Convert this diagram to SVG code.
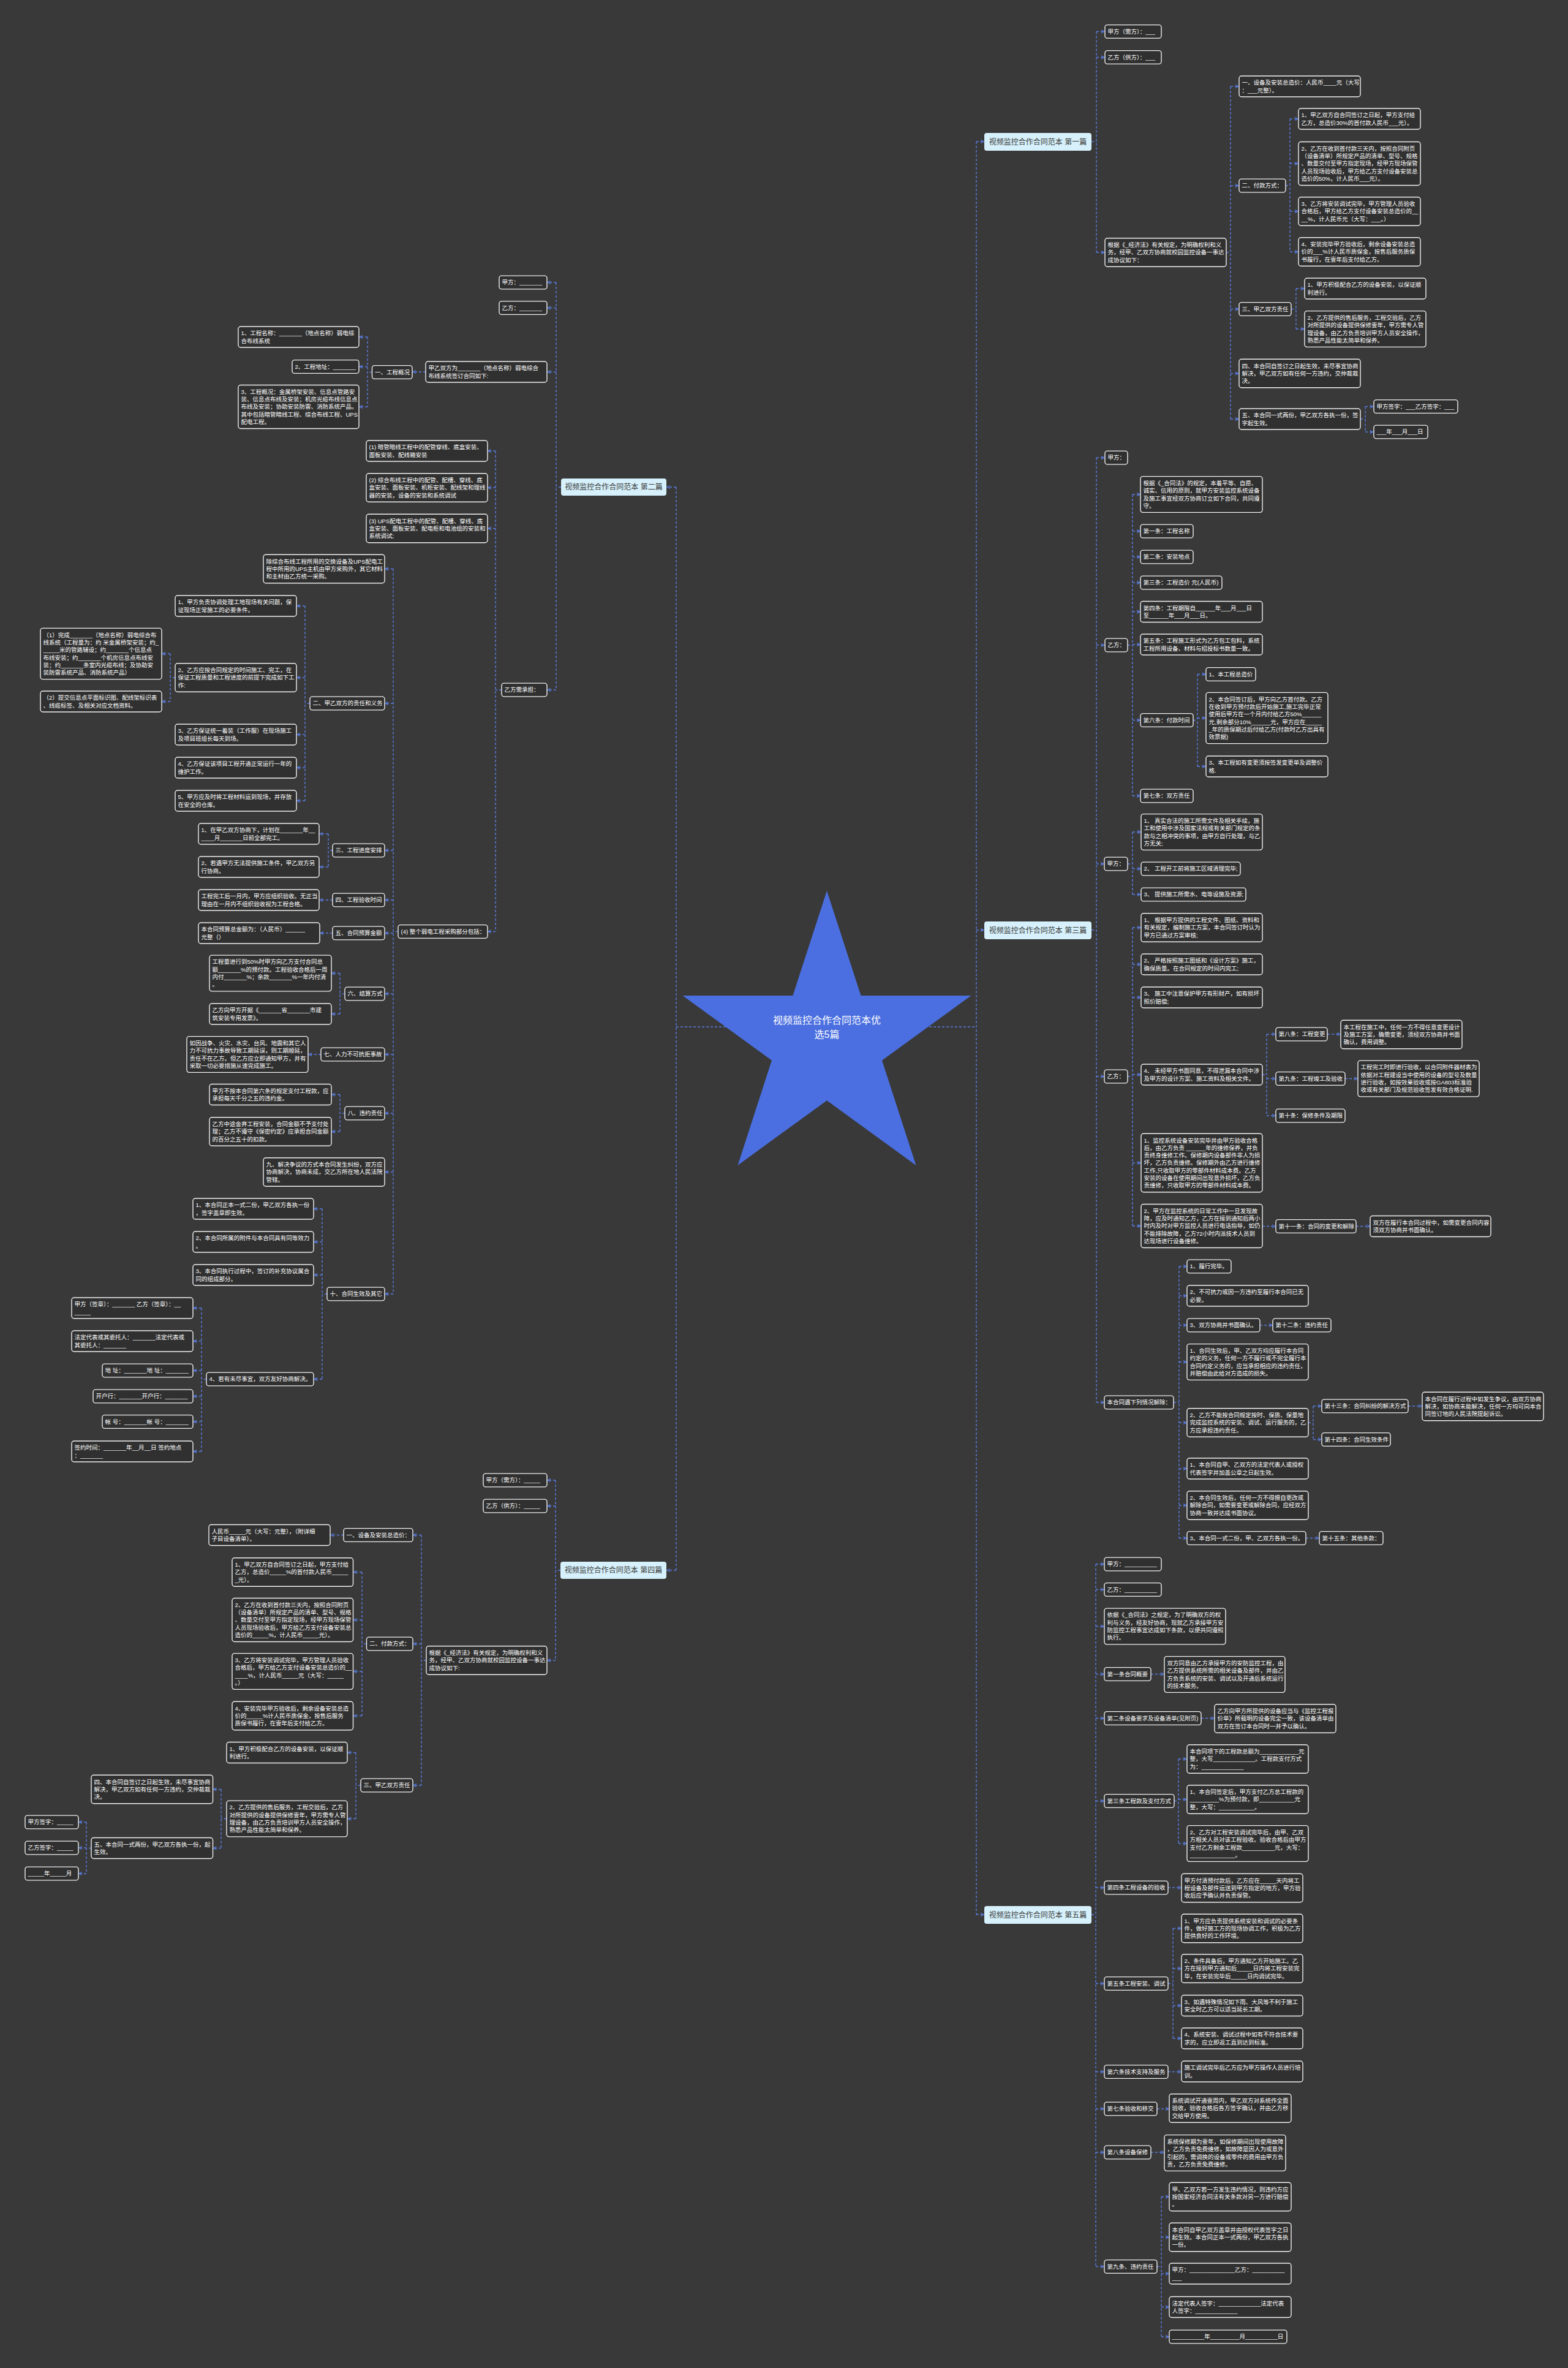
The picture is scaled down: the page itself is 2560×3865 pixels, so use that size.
<svg xmlns="http://www.w3.org/2000/svg" width="2560" height="3865" viewBox="0 0 2560 3865">
<defs>
<style>
.b{fill:#303030;stroke:#f0f0f0;stroke-width:1.4;rx:4px}
.lv{fill:#d6f1fb;rx:4px}
.t{font-family:"Liberation Sans","Noto Sans CJK SC",sans-serif;font-size:9.5px;fill:#ffffff}
.lt{font-family:"Liberation Sans","Noto Sans CJK SC",sans-serif;font-size:12px;fill:#3a3a3a;text-anchor:middle}
.c{fill:none;stroke:#5a7ce0;stroke-width:1.4;stroke-dasharray:4 3}
.a{fill:none;stroke:#5a7ce0;stroke-width:1.4;stroke-dasharray:4 3;marker-end:url(#ar)}
</style>
<marker id="ar" viewBox="0 0 10 10" refX="9" refY="5" markerWidth="7" markerHeight="7" orient="auto" markerUnits="userSpaceOnUse"><path d="M2,1.5 L9,5 L2,8.5" fill="none" stroke="#5a7ce0" stroke-width="1.6"/></marker>
</defs>
<rect x="0" y="0" width="2560" height="3865" fill="#393939"/>

<g id="connectors">
<path class="c" d="M1104,1676 H1594"/>
<path class="c" d="M1594,231 V3125"/>
<path class="a" d="M1594,231 H1606"/><path class="a" d="M1594,1518 H1606"/><path class="a" d="M1594,3125 H1606"/>
<path class="c" d="M1104,795 V2563"/>
<path class="a" d="M1104,795 H1089"/><path class="a" d="M1104,2563 H1089"/>
<!-- P1 -->
<path class="c" d="M1782,231 H1790 M1790,51.5 V412"/>
<path class="a" d="M1790,51.5 H1803"/><path class="a" d="M1790,93.5 H1803"/><path class="a" d="M1790,412 H1803"/>
<path class="c" d="M2002,412 H2009 M2009,141 V684"/>
<path class="a" d="M2009,141 H2022"/><path class="a" d="M2009,303 H2022"/><path class="a" d="M2009,504.5 H2022"/><path class="a" d="M2009,609.5 H2022"/><path class="a" d="M2009,684 H2022"/>
<path class="c" d="M2099,303 H2106 M2106,194 V411"/>
<path class="a" d="M2106,194 H2119"/><path class="a" d="M2106,267 H2119"/><path class="a" d="M2106,345 H2119"/><path class="a" d="M2106,411 H2119"/>
<path class="c" d="M2108,504.5 H2116 M2116,471 V537"/>
<path class="a" d="M2116,471 H2129"/><path class="a" d="M2116,537 H2129"/>
<path class="c" d="M2221,684 H2229 M2229,663.5 V705"/>
<path class="a" d="M2229,663.5 H2242"/><path class="a" d="M2229,705 H2242"/>
<!-- P3 -->
<path class="c" d="M1782,1518 H1790 M1790,747 V2289"/>
<path class="a" d="M1790,747 H1803"/><path class="a" d="M1790,1053 H1803"/><path class="a" d="M1790,1410 H1802"/><path class="a" d="M1790,1757 H1802"/><path class="a" d="M1790,2289 H1802"/>
<path class="c" d="M1841,1053 H1849 M1849,807 V1299"/>
<path class="a" d="M1849,807 H1861"/><path class="a" d="M1849,867 H1861"/><path class="a" d="M1849,909 H1861"/><path class="a" d="M1849,951 H1861"/><path class="a" d="M1849,998.5 H1861"/><path class="a" d="M1849,1052 H1861"/><path class="a" d="M1849,1175.5 H1861"/><path class="a" d="M1849,1299 H1861"/>
<path class="c" d="M1948,1175.5 H1955 M1955,1100.5 V1251"/>
<path class="a" d="M1955,1100.5 H1968"/><path class="a" d="M1955,1172 H1968"/><path class="a" d="M1955,1251 H1968"/>
<path class="c" d="M1841,1410 H1849 M1849,1358 V1460"/>
<path class="a" d="M1849,1358 H1862"/><path class="a" d="M1849,1418 H1862"/><path class="a" d="M1849,1460 H1862"/>
<path class="c" d="M1841,1757 H1849 M1849,1514 V2001"/>
<path class="a" d="M1849,1514 H1862"/><path class="a" d="M1849,1574 H1862"/><path class="a" d="M1849,1628 H1862"/><path class="a" d="M1849,1754 H1862"/><path class="a" d="M1849,1898 H1862"/><path class="a" d="M1849,2001 H1862"/>
<path class="c" d="M2061,1754 H2068 M2068,1688 V1821"/>
<path class="a" d="M2068,1688 H2082"/><path class="a" d="M2068,1760.5 H2082"/><path class="a" d="M2068,1821 H2082"/>
<path class="a" d="M2167,1688 H2188"/>
<path class="a" d="M2196,1760.5 H2216"/>
<path class="a" d="M2061,2001.5 H2082"/>
<path class="a" d="M2214,2001.5 H2236"/>
<path class="c" d="M1916,2289 H1925 M1925,2067 V2510.5"/>
<path class="a" d="M1925,2067 H1937"/><path class="a" d="M1925,2115 H1937"/><path class="a" d="M1925,2163 H1937"/><path class="a" d="M1925,2223 H1937"/><path class="a" d="M1925,2322 H1937"/><path class="a" d="M1925,2397 H1937"/><path class="a" d="M1925,2457 H1937"/><path class="a" d="M1925,2510.5 H1937"/>
<path class="a" d="M2057,2163 H2077"/>
<path class="c" d="M2136,2322 H2144 M2144,2295 V2349.5"/>
<path class="a" d="M2144,2295 H2157"/><path class="a" d="M2144,2349.5 H2157"/>
<path class="a" d="M2299,2295 H2321"/>
<path class="a" d="M2132,2510.5 H2153"/>
<!-- P5 -->
<path class="c" d="M1782,3125 H1789 M1789,2553 V3699.5"/>
<path class="a" d="M1789,2553 H1802"/><path class="a" d="M1789,2594.5 H1802"/><path class="a" d="M1789,2654.5 H1802"/><path class="a" d="M1789,2732.5 H1802"/><path class="a" d="M1789,2804.5 H1802"/><path class="a" d="M1789,2939.5 H1802"/><path class="a" d="M1789,3081 H1802"/><path class="a" d="M1789,3237.5 H1802"/><path class="a" d="M1789,3381.5 H1802"/><path class="a" d="M1789,3442 H1802"/><path class="a" d="M1789,3513 H1802"/><path class="a" d="M1789,3699.5 H1802"/>
<path class="a" d="M1879,2732.5 H1900"/>
<path class="a" d="M1961,2804.5 H1982"/>
<path class="c" d="M1917,2939.5 H1924 M1924,2871 V3009"/>
<path class="a" d="M1924,2871 H1937"/><path class="a" d="M1924,2937 H1937"/><path class="a" d="M1924,3009 H1937"/>
<path class="a" d="M1907,3081 H1928"/>
<path class="c" d="M1907,3237.5 H1915 M1915,3147.5 V3327"/>
<path class="a" d="M1915,3147.5 H1928"/><path class="a" d="M1915,3213 H1928"/><path class="a" d="M1915,3273.5 H1928"/><path class="a" d="M1915,3327 H1928"/>
<path class="a" d="M1907,3381.5 H1928"/>
<path class="a" d="M1889,3442 H1908"/>
<path class="a" d="M1879,3513 H1900"/>
<path class="c" d="M1889,3699.5 H1896 M1896,3585.5 V3814"/>
<path class="a" d="M1896,3585.5 H1908"/><path class="a" d="M1896,3651.5 H1908"/><path class="a" d="M1896,3711 H1908"/><path class="a" d="M1896,3765.5 H1908"/><path class="a" d="M1896,3814 H1908"/>
<!-- P2 -->
<path class="c" d="M916,795 H908 M908,461 V1126"/>
<path class="a" d="M908,461 H894"/><path class="a" d="M908,502.5 H894"/><path class="a" d="M908,607 H894"/><path class="a" d="M908,1126 H894"/>
<path class="a" d="M695,607 H674"/>
<path class="c" d="M607.5,607.5 H600 M600,550 V664"/>
<path class="a" d="M600,550 H587"/><path class="a" d="M600,598.5 H587"/><path class="a" d="M600,664 H587"/>
<path class="c" d="M819,1126 H809 M809,736 V1520.5"/>
<path class="a" d="M809,736 H797"/><path class="a" d="M809,796 H797"/><path class="a" d="M809,862.5 H797"/><path class="a" d="M809,1520.5 H797"/>
<path class="c" d="M650,1520.5 H642 M642,928.5 V2112"/>
<path class="a" d="M642,928.5 H629"/><path class="a" d="M642,1148 H629"/><path class="a" d="M642,1388 H629"/><path class="a" d="M642,1469 H629"/><path class="a" d="M642,1523 H629"/><path class="a" d="M642,1622 H629"/><path class="a" d="M642,1721 H629"/><path class="a" d="M642,1817 H629"/><path class="a" d="M642,1913 H629"/><path class="a" d="M642,2112 H629"/>
<path class="c" d="M506,1148 H498 M498,989 V1307"/>
<path class="a" d="M498,989 H485"/><path class="a" d="M498,1106 H485"/><path class="a" d="M498,1199 H485"/><path class="a" d="M498,1253 H485"/><path class="a" d="M498,1307 H485"/>
<path class="c" d="M286,1106 H278 M278,1067 V1145"/>
<path class="a" d="M278,1067 H265"/><path class="a" d="M278,1145 H265"/>
<path class="c" d="M543,1388 H536 M536,1361 V1415"/>
<path class="a" d="M536,1361 H522"/><path class="a" d="M536,1415 H522"/>
<path class="a" d="M543,1469 H522"/>
<path class="a" d="M543,1523 H523"/>
<path class="c" d="M563,1622 H555 M555,1588.5 V1655"/>
<path class="a" d="M555,1588.5 H542"/><path class="a" d="M555,1655 H542"/>
<path class="a" d="M524,1721 H504"/>
<path class="c" d="M563,1817 H555 M555,1786.5 V1847"/>
<path class="a" d="M555,1786.5 H542"/><path class="a" d="M555,1847 H542"/>
<path class="c" d="M534,2112 H526 M526,1973 V2251"/>
<path class="a" d="M526,1973 H513"/><path class="a" d="M526,2027 H513"/><path class="a" d="M526,2081 H513"/><path class="a" d="M526,2251 H513"/>
<path class="c" d="M337,2251 H329 M329,2135 V2369"/>
<path class="a" d="M329,2135 H316"/><path class="a" d="M329,2189 H316"/><path class="a" d="M329,2237 H316"/><path class="a" d="M329,2279 H316"/><path class="a" d="M329,2320.5 H316"/><path class="a" d="M329,2369 H316"/>
<!-- P4 -->
<path class="c" d="M915,2563 H907 M907,2416 V2710"/>
<path class="a" d="M907,2416 H894"/><path class="a" d="M907,2458 H894"/><path class="a" d="M907,2710 H894"/>
<path class="c" d="M696,2710 H688 M688,2505.5 V2914"/>
<path class="a" d="M688,2505.5 H675"/><path class="a" d="M688,2683 H675"/><path class="a" d="M688,2914 H675"/>
<path class="a" d="M561,2505.5 H540"/>
<path class="c" d="M598.5,2683 H591 M591,2566 V2800.5"/>
<path class="a" d="M591,2566 H577.5"/><path class="a" d="M591,2644 H577.5"/><path class="a" d="M591,2728 H577.5"/><path class="a" d="M591,2800.5 H577.5"/>
<path class="c" d="M589,2914 H581 M581,2860.5 V2968.5"/>
<path class="a" d="M581,2860.5 H568"/><path class="a" d="M581,2968.5 H568"/>
<path class="c" d="M370,2968.5 H361 M361,2920.5 V3016.5"/>
<path class="a" d="M361,2920.5 H348.5"/><path class="a" d="M361,3016.5 H348.5"/>
<path class="c" d="M149,3016.5 H141 M141,2974 V3058"/>
<path class="a" d="M141,2974 H129"/><path class="a" d="M141,3016 H129"/><path class="a" d="M141,3058 H129"/>
</g>

<g id="center">
<polygon points="1350,1454 1405.6,1625.1 1585.5,1625.1 1440,1730.8 1495.5,1901.9 1350,1796.2 1204.5,1901.9 1260,1730.8 1114.5,1625.1 1294.4,1625.1" fill="#4b6fe0"/>
<text x="1350" y="1671" font-family="Liberation Sans, Noto Sans CJK SC, sans-serif" font-size="16" fill="#ffffff" text-anchor="middle">视频监控合作合同范本优</text>
<text x="1350" y="1694" font-family="Liberation Sans, Noto Sans CJK SC, sans-serif" font-size="16" fill="#ffffff" text-anchor="middle">选5篇</text>
</g>

<!-- 第一篇 -->
<g id="p1"><rect class="lv" x="1607" y="217" width="175" height="29"/><text class="lt" x="1694.5" y="235.5">视频监控合作合同范本 第一篇</text></g>
<g id="p1-1"><rect class="b" x="1804" y="40.6" width="92" height="21.8"/><text class="t" x="1808.5" y="54.9">甲方（需方）：___</text></g>
<g id="p1-2"><rect class="b" x="1804" y="82.6" width="92" height="21.8"/><text class="t" x="1808.5" y="96.9">乙方（供方）：___</text></g>
<g id="p1-3"><rect class="b" x="1804" y="388.8" width="198" height="46.4"/><text class="t" x="1808.5" y="403.1">根据《_经济法》有关规定，为明确权利和义<tspan x="1808.5" dy="12.3">务，经甲、乙双方协商就校园监控设备一事达</tspan><tspan x="1808.5" dy="12.3">成协议如下：</tspan></text></g>
<g id="p1-3-1"><rect class="b" x="2023" y="123.95" width="198" height="34.1"/><text class="t" x="2027.5" y="138.25">一、设备及安装总造价：人民币____元（大写<tspan x="2027.5" dy="12.3">：___元整）。</tspan></text></g>
<g id="p1-3-2"><rect class="b" x="2023" y="292.1" width="76" height="21.8"/><text class="t" x="2027.5" y="306.4">二、付款方式：</text></g>
<g id="p1-3-2-1"><rect class="b" x="2120" y="176.95" width="199" height="34.1"/><text class="t" x="2124.5" y="191.25">1、甲乙双方自合同签订之日起，甲方支付给<tspan x="2124.5" dy="12.3">乙方，总造价30%的首付款人民币___元）。</tspan></text></g>
<g id="p1-3-2-2"><rect class="b" x="2120" y="231.5" width="199" height="71"/><text class="t" x="2124.5" y="245.8">2、乙方在收到首付款三天内，按照合同附页<tspan x="2124.5" dy="12.3">（设备清单）所规定产品的清单、型号、规格</tspan><tspan x="2124.5" dy="12.3">、数量交付至甲方指定现场，经甲方现场保管</tspan><tspan x="2124.5" dy="12.3">人员现场验收后，甲方给乙方支付设备安装总</tspan><tspan x="2124.5" dy="12.3">造价的50%，计人民币___元）。</tspan></text></g>
<g id="p1-3-2-3"><rect class="b" x="2120" y="321.8" width="199" height="46.4"/><text class="t" x="2124.5" y="336.1">3、乙方将安装调试完毕，甲方管理人员验收<tspan x="2124.5" dy="12.3">合格后，甲方给乙方支付设备安装总造价的__</tspan><tspan x="2124.5" dy="12.3">__%，计人民币元（大写：___。）</tspan></text></g>
<g id="p1-3-2-4"><rect class="b" x="2120" y="387.8" width="199" height="46.4"/><text class="t" x="2124.5" y="402.1">4、安装完毕甲方验收后，剩余设备安装总造<tspan x="2124.5" dy="12.3">价的___%计人民币质保金，按售后服务质保</tspan><tspan x="2124.5" dy="12.3">书履行，在壹年后支付给乙方。</tspan></text></g>
<g id="p1-3-3"><rect class="b" x="2023" y="493.6" width="85" height="21.8"/><text class="t" x="2027.5" y="507.9">三、甲乙双方责任</text></g>
<g id="p1-3-3-1"><rect class="b" x="2130" y="453.95" width="198" height="34.1"/><text class="t" x="2134.5" y="468.25">1、甲方积极配合乙方的设备安装，以保证顺<tspan x="2134.5" dy="12.3">利进行。</tspan></text></g>
<g id="p1-3-3-2"><rect class="b" x="2130" y="507.65" width="198" height="58.7"/><text class="t" x="2134.5" y="521.95">2、乙方提供的售后服务，工程交验后，乙方<tspan x="2134.5" dy="12.3">对所提供的设备提供保修壹年，甲方需专人管</tspan><tspan x="2134.5" dy="12.3">理设备，由乙方负责培训甲方人员安全操作，</tspan><tspan x="2134.5" dy="12.3">熟悉产品性能太简单和保养。</tspan></text></g>
<g id="p1-3-4"><rect class="b" x="2023" y="586.3" width="198" height="46.4"/><text class="t" x="2027.5" y="600.6">四、本合同自签订之日起生效，未尽事宜协商<tspan x="2027.5" dy="12.3">解决，甲乙双方如有任何一方违约，交仲裁裁</tspan><tspan x="2027.5" dy="12.3">决。</tspan></text></g>
<g id="p1-3-5"><rect class="b" x="2023" y="666.95" width="198" height="34.1"/><text class="t" x="2027.5" y="681.25">五、本合同一式两份，甲乙双方各执一份，签<tspan x="2027.5" dy="12.3">字起生效。</tspan></text></g>
<g id="p1-3-5-1"><rect class="b" x="2243" y="652.6" width="137" height="21.8"/><text class="t" x="2247.5" y="666.9">甲方签字：___乙方签字：___</text></g>
<g id="p1-3-5-2"><rect class="b" x="2243" y="694.1" width="88" height="21.8"/><text class="t" x="2247.5" y="708.4">___年___月___日</text></g>

<!-- 第三篇 -->
<g id="p3"><rect class="lv" x="1607" y="1504" width="175" height="29"/><text class="lt" x="1694.5" y="1522.5">视频监控合作合同范本 第三篇</text></g>
<g id="p3-1"><rect class="b" x="1804" y="736.1" width="37" height="21.8"/><text class="t" x="1808.5" y="750.4">甲方：</text></g>
<g id="p3-2"><rect class="b" x="1804" y="1042.1" width="37" height="21.8"/><text class="t" x="1808.5" y="1056.4">乙方：</text></g>
<g id="p3-2-1"><rect class="b" x="1862" y="777.65" width="199" height="58.7"/><text class="t" x="1866.5" y="791.95">根据《_合同法》的规定，本着平等、自愿、<tspan x="1866.5" dy="12.3">诚实、信用的原则，就甲方安装监控系统设备</tspan><tspan x="1866.5" dy="12.3">及施工事宜经双方协商订立如下合同，共同遵</tspan><tspan x="1866.5" dy="12.3">守。</tspan></text></g>
<g id="p3-2-2"><rect class="b" x="1862" y="856.1" width="86" height="21.8"/><text class="t" x="1866.5" y="870.4">第一条：工程名称</text></g>
<g id="p3-2-3"><rect class="b" x="1862" y="898.1" width="86" height="21.8"/><text class="t" x="1866.5" y="912.4">第二条：安装地点</text></g>
<g id="p3-2-4"><rect class="b" x="1862" y="940.1" width="133" height="21.8"/><text class="t" x="1866.5" y="954.4">第三条：工程造价 元(人民币)</text></g>
<g id="p3-2-5"><rect class="b" x="1862" y="981.45" width="199" height="34.1"/><text class="t" x="1866.5" y="995.75">第四条：工程期限自______年___月___日<tspan x="1866.5" dy="12.3">至______年___月___日。</tspan></text></g>
<g id="p3-2-6"><rect class="b" x="1862" y="1034.95" width="199" height="34.1"/><text class="t" x="1866.5" y="1049.25">第五条：工程施工形式为乙方包工包料，系统<tspan x="1866.5" dy="12.3">工程所用设备、材料与招投标书数量一致。</tspan></text></g>
<g id="p3-2-7"><rect class="b" x="1862" y="1164.6" width="86" height="21.8"/><text class="t" x="1866.5" y="1178.9">第六条：付款时间</text></g>
<g id="p3-2-7-1"><rect class="b" x="1969" y="1089.6" width="81" height="21.8"/><text class="t" x="1973.5" y="1103.9">1、本工程总造价</text></g>
<g id="p3-2-7-2"><rect class="b" x="1969" y="1130.35" width="199" height="83.3"/><text class="t" x="1973.5" y="1144.65">2、本合同签订后，甲方向乙方首付款。乙方<tspan x="1973.5" dy="12.3">在收到甲方预付款后开始施工,施工完毕正常</tspan><tspan x="1973.5" dy="12.3">使用后甲方在一个月内付给乙方50%______</tspan><tspan x="1973.5" dy="12.3">元,剩余部分10%______元，甲方应在_____</tspan><tspan x="1973.5" dy="12.3">_年的质保期过后付给乙方(付款时乙方出具有</tspan><tspan x="1973.5" dy="12.3">效票据)</tspan></text></g>
<g id="p3-2-7-3"><rect class="b" x="1969" y="1233.95" width="199" height="34.1"/><text class="t" x="1973.5" y="1248.25">3、本工程如有变更须按签发变更单及调整价<tspan x="1973.5" dy="12.3">格.</tspan></text></g>
<g id="p3-2-8"><rect class="b" x="1862" y="1288.1" width="86" height="21.8"/><text class="t" x="1866.5" y="1302.4">第七条：双方责任</text></g>
<g id="p3-3"><rect class="b" x="1803" y="1399.1" width="38" height="21.8"/><text class="t" x="1807.5" y="1413.4">甲方：</text></g>
<g id="p3-3-1"><rect class="b" x="1863" y="1328.65" width="198" height="58.7"/><text class="t" x="1867.5" y="1342.95">1、 真实合法的施工所需文件及相关手续，施<tspan x="1867.5" dy="12.3">工和使用中涉及国家法规或有关部门规定的条</tspan><tspan x="1867.5" dy="12.3">款与之相冲突的事项，由甲方自行处理，与乙</tspan><tspan x="1867.5" dy="12.3">方无关;</tspan></text></g>
<g id="p3-3-2"><rect class="b" x="1863" y="1407.1" width="162" height="21.8"/><text class="t" x="1867.5" y="1421.4">2、 工程开工前将施工区域清理完毕;</text></g>
<g id="p3-3-3"><rect class="b" x="1863" y="1449.1" width="171" height="21.8"/><text class="t" x="1867.5" y="1463.4">3、 提供施工所需水、电等设施及资源;</text></g>
<g id="p3-4"><rect class="b" x="1803" y="1746.1" width="38" height="21.8"/><text class="t" x="1807.5" y="1760.4">乙方：</text></g>
<g id="p3-4-1"><rect class="b" x="1863" y="1490.8" width="198" height="46.4"/><text class="t" x="1867.5" y="1505.1">1、 根据甲方提供的工程文件、图纸、资料和<tspan x="1867.5" dy="12.3">有关规定，编制施工方案，本合同签订时认为</tspan><tspan x="1867.5" dy="12.3">甲方已通过方案审核;</tspan></text></g>
<g id="p3-4-2"><rect class="b" x="1863" y="1556.95" width="198" height="34.1"/><text class="t" x="1867.5" y="1571.25">2、 严格按照施工图纸和《设计方案》施工，<tspan x="1867.5" dy="12.3">确保质量。在合同规定的时间内完工;</tspan></text></g>
<g id="p3-4-3"><rect class="b" x="1863" y="1610.95" width="198" height="34.1"/><text class="t" x="1867.5" y="1625.25">3、 施工中注意保护甲方有形财产，如有损坏<tspan x="1867.5" dy="12.3">照价赔偿;</tspan></text></g>
<g id="p3-4-4"><rect class="b" x="1863" y="1736.95" width="198" height="34.1"/><text class="t" x="1867.5" y="1751.25">4、 未经甲方书面同意，不得泄漏本合同中涉<tspan x="1867.5" dy="12.3">及甲方的设计方案、施工资料及相关文件。</tspan></text></g>
<g id="p3-4-4-1"><rect class="b" x="2083" y="1677.1" width="84" height="21.8"/><text class="t" x="2087.5" y="1691.4">第八条：工程变更</text></g>
<g id="p3-4-4-1-1"><rect class="b" x="2189" y="1665.3" width="198" height="46.4"/><text class="t" x="2193.5" y="1679.6">本工程在施工中，任何一方不得任意变更设计<tspan x="2193.5" dy="12.3">及施工方案，确需变更，须经双方协商并书面</tspan><tspan x="2193.5" dy="12.3">确认，费用调整。</tspan></text></g>
<g id="p3-4-4-2"><rect class="b" x="2083" y="1749.6" width="113" height="21.8"/><text class="t" x="2087.5" y="1763.9">第九条：工程竣工及验收</text></g>
<g id="p3-4-4-2-1"><rect class="b" x="2217" y="1731.15" width="198" height="58.7"/><text class="t" x="2221.5" y="1745.45">工程完工时即进行验收，以合同附件器材表为<tspan x="2221.5" dy="12.3">依据对工程建设当中使用的设备的型号及数量</tspan><tspan x="2221.5" dy="12.3">进行验收，如按效果验收或按GA803标准验</tspan><tspan x="2221.5" dy="12.3">收或有关部门及规范验收签发有效合格证明.</tspan></text></g>
<g id="p3-4-4-3"><rect class="b" x="2083" y="1810.1" width="113" height="21.8"/><text class="t" x="2087.5" y="1824.4">第十条：保修条件及期限</text></g>
<g id="p3-4-5"><rect class="b" x="1863" y="1850.2" width="198" height="95.6"/><text class="t" x="1867.5" y="1864.5">1、监控系统设备安装完毕并由甲方验收合格<tspan x="1867.5" dy="12.3">后，由乙方负责 ______年的维修保养，并负</tspan><tspan x="1867.5" dy="12.3">责终身维修工作。保修期内设备部件非人为损</tspan><tspan x="1867.5" dy="12.3">坏，乙方负责维修。保修期外由乙方进行维修</tspan><tspan x="1867.5" dy="12.3">工作,只收取甲方的零部件材料成本费。乙方</tspan><tspan x="1867.5" dy="12.3">安装的设备在使用期间出现意外损坏，乙方负</tspan><tspan x="1867.5" dy="12.3">责维修，只收取甲方的零部件材料成本费。</tspan></text></g>
<g id="p3-4-6"><rect class="b" x="1863" y="1965.5" width="198" height="71"/><text class="t" x="1867.5" y="1979.8">2、甲方在监控系统的日常工作中一旦发现故<tspan x="1867.5" dy="12.3">障，应及时通知乙方，乙方在接到通知后两小</tspan><tspan x="1867.5" dy="12.3">时内及时对甲方监控人员进行电话指导，如仍</tspan><tspan x="1867.5" dy="12.3">不能排除故障，乙方72小时内派技术人员到</tspan><tspan x="1867.5" dy="12.3">达现场进行设备维修。</tspan></text></g>
<g id="p3-4-6-1"><rect class="b" x="2083" y="1990.6" width="131" height="21.8"/><text class="t" x="2087.5" y="2004.9">第十一条：合同的变更和解除</text></g>
<g id="p3-4-6-1-1"><rect class="b" x="2237" y="1984.45" width="197" height="34.1"/><text class="t" x="2241.5" y="1998.75">双方在履行本合同过程中，如需变更合同内容<tspan x="2241.5" dy="12.3">须双方协商并书面确认。</tspan></text></g>
<g id="p3-5"><rect class="b" x="1803" y="2278.1" width="113" height="21.8"/><text class="t" x="1807.5" y="2292.4">本合同遇下列情况解除：</text></g>
<g id="p3-5-1"><rect class="b" x="1938" y="2056.1" width="72" height="21.8"/><text class="t" x="1942.5" y="2070.4">1、履行完毕。</text></g>
<g id="p3-5-2"><rect class="b" x="1938" y="2097.95" width="198" height="34.1"/><text class="t" x="1942.5" y="2112.25">2、不可抗力或因一方违约至履行本合同已无<tspan x="1942.5" dy="12.3">必要。</tspan></text></g>
<g id="p3-5-3"><rect class="b" x="1938" y="2152.1" width="119" height="21.8"/><text class="t" x="1942.5" y="2166.4">3、双方协商并书面确认。</text></g>
<g id="p3-5-3-1"><rect class="b" x="2078" y="2152.1" width="95" height="21.8"/><text class="t" x="2082.5" y="2166.4">第十二条：违约责任</text></g>
<g id="p3-5-4"><rect class="b" x="1938" y="2193.65" width="198" height="58.7"/><text class="t" x="1942.5" y="2207.95">1、合同生效后，甲、乙双方均应履行本合同<tspan x="1942.5" dy="12.3">约定的义务，任何一方不履行或不完全履行本</tspan><tspan x="1942.5" dy="12.3">合同约定义务的，应当承担相应的违约责任，</tspan><tspan x="1942.5" dy="12.3">并赔偿由此给对方造成的损失。</tspan></text></g>
<g id="p3-5-5"><rect class="b" x="1938" y="2298.8" width="198" height="46.4"/><text class="t" x="1942.5" y="2313.1">2、乙方不能按合同规定按时、保质、保量地<tspan x="1942.5" dy="12.3">完成监控系统的安装、调试、运行服务的，乙</tspan><tspan x="1942.5" dy="12.3">方应承担违约责任。</tspan></text></g>
<g id="p3-5-5-1"><rect class="b" x="2158" y="2284.1" width="141" height="21.8"/><text class="t" x="2162.5" y="2298.4">第十三条：合同纠纷的解决方式</text></g>
<g id="p3-5-5-1-1"><rect class="b" x="2322" y="2272.3" width="198" height="46.4"/><text class="t" x="2326.5" y="2286.6">本合同在履行过程中如发生争议，由双方协商<tspan x="2326.5" dy="12.3">解决，如协商未能解决，任何一方均可向本合</tspan><tspan x="2326.5" dy="12.3">同签订地的人民法院提起诉讼。</tspan></text></g>
<g id="p3-5-5-2"><rect class="b" x="2158" y="2338.6" width="112" height="21.8"/><text class="t" x="2162.5" y="2352.9">第十四条：合同生效条件</text></g>
<g id="p3-5-6"><rect class="b" x="1938" y="2379.95" width="198" height="34.1"/><text class="t" x="1942.5" y="2394.25">1、本合同自甲、乙双方的法定代表人或授权<tspan x="1942.5" dy="12.3">代表签字并加盖公章之日起生效。</tspan></text></g>
<g id="p3-5-7"><rect class="b" x="1938" y="2433.8" width="198" height="46.4"/><text class="t" x="1942.5" y="2448.1">2、本合同生效后，任何一方不得擅自更改或<tspan x="1942.5" dy="12.3">解除合同，如需要变更或解除合同，应经双方</tspan><tspan x="1942.5" dy="12.3">协商一致并达成书面协议。</tspan></text></g>
<g id="p3-5-8"><rect class="b" x="1938" y="2499.6" width="194" height="21.8"/><text class="t" x="1942.5" y="2513.9">3、本合同一式二份，甲、乙双方各执一份。</text></g>
<g id="p3-5-8-1"><rect class="b" x="2154" y="2499.6" width="104" height="21.8"/><text class="t" x="2158.5" y="2513.9">第十五条：其他条款：</text></g>

<!-- 第五篇 -->
<g id="p5"><rect class="lv" x="1607" y="3111" width="175" height="29"/><text class="lt" x="1694.5" y="3129.5">视频监控合作合同范本 第五篇</text></g>
<g id="p5-1"><rect class="b" x="1803" y="2542.1" width="93" height="21.8"/><text class="t" x="1807.5" y="2556.4">甲方：__________</text></g>
<g id="p5-2"><rect class="b" x="1803" y="2583.6" width="93" height="21.8"/><text class="t" x="1807.5" y="2597.9">乙方：__________</text></g>
<g id="p5-3"><rect class="b" x="1803" y="2625.15" width="198" height="58.7"/><text class="t" x="1807.5" y="2639.45">依据《_合同法》之规定，为了明确双方的权<tspan x="1807.5" dy="12.3">利与义务，经友好协商，现就乙方承接甲方安</tspan><tspan x="1807.5" dy="12.3">防监控工程事宜达成如下条款，以便共同遵照</tspan><tspan x="1807.5" dy="12.3">执行。</tspan></text></g>
<g id="p5-4"><rect class="b" x="1803" y="2721.6" width="76" height="21.8"/><text class="t" x="1807.5" y="2735.9">第一条合同概要</text></g>
<g id="p5-4-1"><rect class="b" x="1901" y="2703.65" width="197" height="58.7"/><text class="t" x="1905.5" y="2717.95">双方同意由乙方承接甲方的安防监控工程，由<tspan x="1905.5" dy="12.3">乙方提供系统所需的相关设备及部件，并由乙</tspan><tspan x="1905.5" dy="12.3">方负责系统的安装、调试以及开通后系统运行</tspan><tspan x="1905.5" dy="12.3">的技术服务。</tspan></text></g>
<g id="p5-5"><rect class="b" x="1803" y="2793.6" width="158" height="21.8"/><text class="t" x="1807.5" y="2807.9">第二条设备要求及设备清单(见附页)</text></g>
<g id="p5-5-1"><rect class="b" x="1983" y="2781.8" width="198" height="46.4"/><text class="t" x="1987.5" y="2796.1">乙方向甲方所提供的设备应当与《监控工程报<tspan x="1987.5" dy="12.3">价单》所载明的设备完全一致，该设备清单由</tspan><tspan x="1987.5" dy="12.3">双方在签订本合同时一并予以确认。</tspan></text></g>
<g id="p5-6"><rect class="b" x="1803" y="2928.6" width="114" height="21.8"/><text class="t" x="1807.5" y="2942.9">第三条工程款及支付方式</text></g>
<g id="p5-6-1"><rect class="b" x="1938" y="2847.8" width="198" height="46.4"/><text class="t" x="1942.5" y="2862.1">本合同项下的工程款总额为____________元<tspan x="1942.5" dy="12.3">整，大写_____________。工程款支付方式</tspan><tspan x="1942.5" dy="12.3">为：_____________</tspan></text></g>
<g id="p5-6-2"><rect class="b" x="1938" y="2913.8" width="198" height="46.4"/><text class="t" x="1942.5" y="2928.1">1、本合同签定后，甲方支付乙方总工程款的<tspan x="1942.5" dy="12.3">_________%为预付款，即___________元</tspan><tspan x="1942.5" dy="12.3">整，大写：___________。</tspan></text></g>
<g id="p5-6-3"><rect class="b" x="1938" y="2979.65" width="198" height="58.7"/><text class="t" x="1942.5" y="2993.95">2、乙方对工程安装调试完毕后，由甲、乙双<tspan x="1942.5" dy="12.3">方相关人员对该工程验收。验收合格后由甲方</tspan><tspan x="1942.5" dy="12.3">支付乙方剩余工程款__________元，大写：</tspan><tspan x="1942.5" dy="12.3">______________。</tspan></text></g>
<g id="p5-7"><rect class="b" x="1803" y="3070.1" width="104" height="21.8"/><text class="t" x="1807.5" y="3084.4">第四条工程设备的验收</text></g>
<g id="p5-7-1"><rect class="b" x="1929" y="3058.3" width="198" height="46.4"/><text class="t" x="1933.5" y="3072.6">甲方付清预付款后，乙方应在_____天内将工<tspan x="1933.5" dy="12.3">程设备及部件运送到甲方指定的地方，甲方验</tspan><tspan x="1933.5" dy="12.3">收后应予确认并负责保管。</tspan></text></g>
<g id="p5-8"><rect class="b" x="1803" y="3226.6" width="104" height="21.8"/><text class="t" x="1807.5" y="3240.9">第五条工程安装、调试</text></g>
<g id="p5-8-1"><rect class="b" x="1929" y="3124.3" width="198" height="46.4"/><text class="t" x="1933.5" y="3138.6">1、甲方应负责提供系统安装和调试的必要条<tspan x="1933.5" dy="12.3">件，做好施工方的现场协调工作，积极为乙方</tspan><tspan x="1933.5" dy="12.3">提供良好的工作环境。</tspan></text></g>
<g id="p5-8-2"><rect class="b" x="1929" y="3189.8" width="198" height="46.4"/><text class="t" x="1933.5" y="3204.1">2、条件具备后，甲方通知乙方开始施工。乙<tspan x="1933.5" dy="12.3">方在接到甲方通知后_____日内将工程安装完</tspan><tspan x="1933.5" dy="12.3">毕，在安装完毕后_____日内调试完毕。</tspan></text></g>
<g id="p5-8-3"><rect class="b" x="1929" y="3256.45" width="198" height="34.1"/><text class="t" x="1933.5" y="3270.75">3、如遇特殊情况如下雨、大风等不利于施工<tspan x="1933.5" dy="12.3">安全时乙方可以适当延长工期。</tspan></text></g>
<g id="p5-8-4"><rect class="b" x="1929" y="3309.95" width="198" height="34.1"/><text class="t" x="1933.5" y="3324.25">4、系统安装、调试过程中如有不符合技术要<tspan x="1933.5" dy="12.3">求的，应立即返工直到达到标准。</tspan></text></g>
<g id="p5-9"><rect class="b" x="1803" y="3370.6" width="104" height="21.8"/><text class="t" x="1807.5" y="3384.9">第六条技术支持及服务</text></g>
<g id="p5-9-1"><rect class="b" x="1929" y="3363.95" width="198" height="34.1"/><text class="t" x="1933.5" y="3378.25">施工调试完毕后乙方应为甲方操作人员进行培<tspan x="1933.5" dy="12.3">训。</tspan></text></g>
<g id="p5-10"><rect class="b" x="1803" y="3431.1" width="86" height="21.8"/><text class="t" x="1807.5" y="3445.4">第七条验收和移交</text></g>
<g id="p5-10-1"><rect class="b" x="1909" y="3417.8" width="199" height="46.4"/><text class="t" x="1913.5" y="3432.1">系统调试开通壹周内，甲乙双方对系统作全面<tspan x="1913.5" dy="12.3">验收，验收合格后各方签字确认，并由乙方移</tspan><tspan x="1913.5" dy="12.3">交给甲方使用。</tspan></text></g>
<g id="p5-11"><rect class="b" x="1803" y="3502.1" width="76" height="21.8"/><text class="t" x="1807.5" y="3516.4">第八条设备保修</text></g>
<g id="p5-11-1"><rect class="b" x="1901" y="3484.65" width="198" height="58.7"/><text class="t" x="1905.5" y="3498.95">系统保修期为壹年，如保修期间出现使用故障<tspan x="1905.5" dy="12.3">，乙方负责免费维修，如故障是因人为或意外</tspan><tspan x="1905.5" dy="12.3">引起的，需调换的设备或零件的费用由甲方负</tspan><tspan x="1905.5" dy="12.3">责，乙方负责免费维修。</tspan></text></g>
<g id="p5-12"><rect class="b" x="1803" y="3688.6" width="86" height="21.8"/><text class="t" x="1807.5" y="3702.9">第九条、违约责任</text></g>
<g id="p5-12-1"><rect class="b" x="1909" y="3562.3" width="199" height="46.4"/><text class="t" x="1913.5" y="3576.6">甲、乙双方若一方发生违约情况，则违约方应<tspan x="1913.5" dy="12.3">按国家经济合同法有关条款对另一方进行赔偿</tspan><tspan x="1913.5" dy="12.3">。</tspan></text></g>
<g id="p5-12-2"><rect class="b" x="1909" y="3628.3" width="199" height="46.4"/><text class="t" x="1913.5" y="3642.6">本合同自甲乙双方盖章并由授权代表签字之日<tspan x="1913.5" dy="12.3">起生效。本合同正本一式两份，甲乙双方各执</tspan><tspan x="1913.5" dy="12.3">一份。</tspan></text></g>
<g id="p5-12-3"><rect class="b" x="1909" y="3693.95" width="199" height="34.1"/><text class="t" x="1913.5" y="3708.25">甲方：______________乙方：__________<tspan x="1913.5" dy="12.3">___</tspan></text></g>
<g id="p5-12-4"><rect class="b" x="1909" y="3748.45" width="199" height="34.1"/><text class="t" x="1913.5" y="3762.75">法定代表人签字：_____________法定代表<tspan x="1913.5" dy="12.3">人签字：_____________</tspan></text></g>
<g id="p5-12-5"><rect class="b" x="1909" y="3803.1" width="192" height="21.8"/><text class="t" x="1913.5" y="3817.4">__________年_________月__________日</text></g>

<!-- 第二篇 -->
<g id="p2"><rect class="lv" x="916" y="781" width="172" height="28"/><text class="lt" x="1002" y="799">视频监控合作合同范本 第二篇</text></g>
<g id="p2-1"><rect class="b" x="815" y="450.1" width="78" height="21.8"/><text class="t" x="819.5" y="464.4">甲方：_______</text></g>
<g id="p2-2"><rect class="b" x="815" y="491.6" width="78" height="21.8"/><text class="t" x="819.5" y="505.9">乙方：_______</text></g>
<g id="p2-3"><rect class="b" x="695" y="589.95" width="198" height="34.1"/><text class="t" x="699.5" y="604.25">甲乙双方为_______（地点名称）弱电综合<tspan x="699.5" dy="12.3">布线系统签订合同如下:</tspan></text></g>
<g id="p2-3-1"><rect class="b" x="607.5" y="596.6" width="65.5" height="21.8"/><text class="t" x="612" y="610.9">一、工程概况</text></g>
<g id="p2-3-1-1"><rect class="b" x="389" y="532.95" width="197" height="34.1"/><text class="t" x="393.5" y="547.25">1、工程名称：_______（地点名称）弱电综<tspan x="393.5" dy="12.3">合布线系统</tspan></text></g>
<g id="p2-3-1-2"><rect class="b" x="477" y="587.6" width="109" height="21.8"/><text class="t" x="481.5" y="601.9">2、工程地址：_______</text></g>
<g id="p2-3-1-3"><rect class="b" x="389" y="628.5" width="197" height="71"/><text class="t" x="393.5" y="642.8">3、工程概况：金属桥架安装、信息点管路安<tspan x="393.5" dy="12.3">装、信息点布线及安装；机房光缆布线信息点</tspan><tspan x="393.5" dy="12.3">布线及安装；协助安装防雷、消防系统产品。</tspan><tspan x="393.5" dy="12.3">其中包括暗管暗线工程、综合布线工程、UPS</tspan><tspan x="393.5" dy="12.3">配电工程。</tspan></text></g>
<g id="p2-4"><rect class="b" x="819" y="1115.1" width="74" height="21.8"/><text class="t" x="823.5" y="1129.4">乙方需承担：</text></g>
<g id="p2-4-1"><rect class="b" x="598" y="718.95" width="198" height="34.1"/><text class="t" x="602.5" y="733.25">(1) 暗管暗线工程中的配管穿线、底盒安装、<tspan x="602.5" dy="12.3">面板安装、配线箱安装</tspan></text></g>
<g id="p2-4-2"><rect class="b" x="598" y="772.8" width="198" height="46.4"/><text class="t" x="602.5" y="787.1">(2) 综合布线工程中的配管、配槽、穿线、底<tspan x="602.5" dy="12.3">盒安装、面板安装、机柜安装、配线架和理线</tspan><tspan x="602.5" dy="12.3">器的安装，设备的安装和系统调试</tspan></text></g>
<g id="p2-4-3"><rect class="b" x="598" y="839.3" width="198" height="46.4"/><text class="t" x="602.5" y="853.6">(3) UPS配电工程中的配管、配槽、穿线、底<tspan x="602.5" dy="12.3">盒安装、面板安装、配电柜和电池组的安装和</tspan><tspan x="602.5" dy="12.3">系统调试;</tspan></text></g>
<g id="p2-4-4"><rect class="b" x="650" y="1509.6" width="146" height="21.8"/><text class="t" x="654.5" y="1523.9">(4) 整个弱电工程采购部分包括：</text></g>
<g id="p2-4-4-1"><rect class="b" x="430" y="905.3" width="198" height="46.4"/><text class="t" x="434.5" y="919.6">除综合布线工程所用的交换设备及UPS配电工<tspan x="434.5" dy="12.3">程中所用的UPS主机由甲方采购外，其它材料</tspan><tspan x="434.5" dy="12.3">和主材由乙方统一采购。</tspan></text></g>
<g id="p2-4-4-2"><rect class="b" x="506" y="1137.1" width="122" height="21.8"/><text class="t" x="510.5" y="1151.4">二、甲乙双方的责任和义务</text></g>
<g id="p2-4-4-2-1"><rect class="b" x="286" y="971.95" width="198" height="34.1"/><text class="t" x="290.5" y="986.25">1、甲方负责协调处理工地现场有关问题，保<tspan x="290.5" dy="12.3">证现场正常施工的必要条件。</tspan></text></g>
<g id="p2-4-4-2-2"><rect class="b" x="286" y="1082.8" width="198" height="46.4"/><text class="t" x="290.5" y="1097.1">2、乙方应按合同规定的时间施工、完工，在<tspan x="290.5" dy="12.3">保证工程质量和工程进度的前提下完成如下工</tspan><tspan x="290.5" dy="12.3">作:</tspan></text></g>
<g id="p2-4-4-2-2-1"><rect class="b" x="66" y="1025.35" width="198" height="83.3"/><text class="t" x="70.5" y="1039.65">（1）完成_______（地点名称）弱电综合布<tspan x="70.5" dy="12.3">线系统（工程量为：约 米金属桥架安装；约_</tspan><tspan x="70.5" dy="12.3">_____米的管路辅设；约_______个信息点</tspan><tspan x="70.5" dy="12.3">布线安装；约_______个机房信息点布线安</tspan><tspan x="70.5" dy="12.3">装；约_______条室内光缆布线；及协助安</tspan><tspan x="70.5" dy="12.3">装防雷系统产品、消防系统产品）</tspan></text></g>
<g id="p2-4-4-2-2-2"><rect class="b" x="66" y="1127.95" width="198" height="34.1"/><text class="t" x="70.5" y="1142.25">（2）提交信息点平面标识图、配线架标识表<tspan x="70.5" dy="12.3">、线缆标签、及相关对应文档资料。</tspan></text></g>
<g id="p2-4-4-2-3"><rect class="b" x="286" y="1181.95" width="198" height="34.1"/><text class="t" x="290.5" y="1196.25">3、乙方保证统一着装（工作服）在现场施工<tspan x="290.5" dy="12.3">及项目班组长每天到场。</tspan></text></g>
<g id="p2-4-4-2-4"><rect class="b" x="286" y="1235.95" width="198" height="34.1"/><text class="t" x="290.5" y="1250.25">4、乙方保证该项目工程开通正常运行一年的<tspan x="290.5" dy="12.3">维护工作。</tspan></text></g>
<g id="p2-4-4-2-5"><rect class="b" x="286" y="1289.95" width="198" height="34.1"/><text class="t" x="290.5" y="1304.25">5、甲方应及时将工程材料运到现场，并存放<tspan x="290.5" dy="12.3">在安全的仓库。</tspan></text></g>
<g id="p2-4-4-3"><rect class="b" x="543" y="1377.1" width="85" height="21.8"/><text class="t" x="547.5" y="1391.4">三、工程进度安排</text></g>
<g id="p2-4-4-3-1"><rect class="b" x="324" y="1343.95" width="197" height="34.1"/><text class="t" x="328.5" y="1358.25">1、在甲乙双方协商下，计划在_______年__<tspan x="328.5" dy="12.3">____月_______日前全部完工。</tspan></text></g>
<g id="p2-4-4-3-2"><rect class="b" x="324" y="1397.95" width="197" height="34.1"/><text class="t" x="328.5" y="1412.25">2、若遇甲方无法提供施工条件，甲乙双方另<tspan x="328.5" dy="12.3">行协商。</tspan></text></g>
<g id="p2-4-4-4"><rect class="b" x="543" y="1458.1" width="85" height="21.8"/><text class="t" x="547.5" y="1472.4">四、工程验收时间</text></g>
<g id="p2-4-4-4-1"><rect class="b" x="324" y="1451.95" width="197" height="34.1"/><text class="t" x="328.5" y="1466.25">工程完工后一月内，甲方应组织验收。无正当<tspan x="328.5" dy="12.3">理由在一月内不组织验收视为工程合格。</tspan></text></g>
<g id="p2-4-4-5"><rect class="b" x="543" y="1512.1" width="85" height="21.8"/><text class="t" x="547.5" y="1526.4">五、合同预算金额</text></g>
<g id="p2-4-4-5-1"><rect class="b" x="324" y="1505.95" width="198" height="34.1"/><text class="t" x="328.5" y="1520.25">本合同预算总金额为：（人民币）______<tspan x="328.5" dy="12.3">元整（）</tspan></text></g>
<g id="p2-4-4-6"><rect class="b" x="563" y="1611.1" width="65" height="21.8"/><text class="t" x="567.5" y="1625.4">六、结算方式</text></g>
<g id="p2-4-4-6-1"><rect class="b" x="342" y="1559.15" width="199" height="58.7"/><text class="t" x="346.5" y="1573.45">工程量进行到50%时甲方向乙方支付合同总<tspan x="346.5" dy="12.3">额_______%的预付款。工程验收合格后一周</tspan><tspan x="346.5" dy="12.3">内付_______%；余款_______%一年内付清</tspan><tspan x="346.5" dy="12.3">。</tspan></text></g>
<g id="p2-4-4-6-2"><rect class="b" x="342" y="1637.95" width="199" height="34.1"/><text class="t" x="346.5" y="1652.25">乙方向甲方开据《_______省_______市建<tspan x="346.5" dy="12.3">筑安装专用发票》。</tspan></text></g>
<g id="p2-4-4-7"><rect class="b" x="524" y="1710.1" width="104" height="21.8"/><text class="t" x="528.5" y="1724.4">七、人力不可抗拒事故</text></g>
<g id="p2-4-4-7-1"><rect class="b" x="305" y="1691.65" width="198" height="58.7"/><text class="t" x="309.5" y="1705.95">如因战争、火灾、水灾、台风、地震和其它人<tspan x="309.5" dy="12.3">力不可抗力事故导致工期延误，则工期顺延，</tspan><tspan x="309.5" dy="12.3">责任不在乙方。但乙方应立即通知甲方，并有</tspan><tspan x="309.5" dy="12.3">采取一切必要措施从速完成施工。</tspan></text></g>
<g id="p2-4-4-8"><rect class="b" x="563" y="1806.1" width="65" height="21.8"/><text class="t" x="567.5" y="1820.4">八、违约责任</text></g>
<g id="p2-4-4-8-1"><rect class="b" x="342" y="1769.45" width="199" height="34.1"/><text class="t" x="346.5" y="1783.75">甲方不按本合同第六条的规定支付工程款，应<tspan x="346.5" dy="12.3">承担每天千分之五的违约金。</tspan></text></g>
<g id="p2-4-4-8-2"><rect class="b" x="342" y="1823.8" width="199" height="46.4"/><text class="t" x="346.5" y="1838.1">乙方中途舍弃工程安装，合同金额不予支付处<tspan x="346.5" dy="12.3">理；乙方不遵守《保密约定》应承担合同金额</tspan><tspan x="346.5" dy="12.3">的百分之五十的扣款。</tspan></text></g>
<g id="p2-4-4-9"><rect class="b" x="430" y="1889.8" width="198" height="46.4"/><text class="t" x="434.5" y="1904.1">九、解决争议的方式本合同发生纠纷，双方应<tspan x="434.5" dy="12.3">协商解决，协商未成，交乙方所在地人民法院</tspan><tspan x="434.5" dy="12.3">管辖。</tspan></text></g>
<g id="p2-4-4-10"><rect class="b" x="534" y="2101.1" width="94" height="21.8"/><text class="t" x="538.5" y="2115.4">十、合同生效及其它</text></g>
<g id="p2-4-4-10-1"><rect class="b" x="315" y="1955.95" width="197" height="34.1"/><text class="t" x="319.5" y="1970.25">1、本合同正本一式二份，甲乙双方各执一份<tspan x="319.5" dy="12.3">，签字盖章即生效。</tspan></text></g>
<g id="p2-4-4-10-2"><rect class="b" x="315" y="2009.95" width="197" height="34.1"/><text class="t" x="319.5" y="2024.25">2、本合同所属的附件与本合同具有同等效力<tspan x="319.5" dy="12.3">。</tspan></text></g>
<g id="p2-4-4-10-3"><rect class="b" x="315" y="2063.95" width="197" height="34.1"/><text class="t" x="319.5" y="2078.25">3、本合同执行过程中，签订的补充协议属合<tspan x="319.5" dy="12.3">同的组成部分。</tspan></text></g>
<g id="p2-4-4-10-4"><rect class="b" x="337" y="2240.1" width="175" height="21.8"/><text class="t" x="341.5" y="2254.4">4、若有未尽事宜，双方友好协商解决。</text></g>
<g id="p2-4-4-10-4-1"><rect class="b" x="117" y="2117.95" width="198" height="34.1"/><text class="t" x="121.5" y="2132.25">甲方（签章）：_______ 乙方（签章）：__<tspan x="121.5" dy="12.3">_____</tspan></text></g>
<g id="p2-4-4-10-4-2"><rect class="b" x="117" y="2171.95" width="198" height="34.1"/><text class="t" x="121.5" y="2186.25">法定代表或其委托人：_______法定代表或<tspan x="121.5" dy="12.3">其委托人：_______</tspan></text></g>
<g id="p2-4-4-10-4-3"><rect class="b" x="167" y="2226.1" width="148" height="21.8"/><text class="t" x="171.5" y="2240.4">地 址：_______地 址：_______</text></g>
<g id="p2-4-4-10-4-4"><rect class="b" x="152" y="2268.1" width="163" height="21.8"/><text class="t" x="156.5" y="2282.4">开户行：_______开户行：_______</text></g>
<g id="p2-4-4-10-4-5"><rect class="b" x="167" y="2309.6" width="148" height="21.8"/><text class="t" x="171.5" y="2323.9">帐 号：_______帐 号：_______</text></g>
<g id="p2-4-4-10-4-6"><rect class="b" x="117" y="2351.95" width="198" height="34.1"/><text class="t" x="121.5" y="2366.25">签约时间：_______年__月__日 签约地点<tspan x="121.5" dy="12.3">：_______</tspan></text></g>

<!-- 第四篇 -->
<g id="p4"><rect class="lv" x="915" y="2549" width="173" height="28"/><text class="lt" x="1001.5" y="2567">视频监控合作合同范本 第四篇</text></g>
<g id="p4-1"><rect class="b" x="789" y="2405.1" width="104" height="21.8"/><text class="t" x="793.5" y="2419.4">甲方（需方）：_____</text></g>
<g id="p4-2"><rect class="b" x="789" y="2447.1" width="104" height="21.8"/><text class="t" x="793.5" y="2461.4">乙方（供方）：_____</text></g>
<g id="p4-3"><rect class="b" x="696" y="2686.8" width="197" height="46.4"/><text class="t" x="700.5" y="2701.1">根据《_经济法》有关规定，为明确权利和义<tspan x="700.5" dy="12.3">务，经甲、乙双方协商就校园监控设备一事达</tspan><tspan x="700.5" dy="12.3">成协议如下:</tspan></text></g>
<g id="p4-3-1"><rect class="b" x="561" y="2494.6" width="113" height="21.8"/><text class="t" x="565.5" y="2508.9">一、设备及安装总造价：</text></g>
<g id="p4-3-1-1"><rect class="b" x="341" y="2488.45" width="198" height="34.1"/><text class="t" x="345.5" y="2502.75">人民币_____元（大写：元整），（附详细<tspan x="345.5" dy="12.3">子目设备清单）。</tspan></text></g>
<g id="p4-3-2"><rect class="b" x="598.5" y="2672.1" width="75.5" height="21.8"/><text class="t" x="603" y="2686.4">二、付款方式：</text></g>
<g id="p4-3-2-1"><rect class="b" x="379" y="2542.8" width="197.5" height="46.4"/><text class="t" x="383.5" y="2557.1">1、甲乙双方自合同签订之日起，甲方支付给<tspan x="383.5" dy="12.3">乙方，总造价_____%的首付款人民币_____</tspan><tspan x="383.5" dy="12.3">_元）。</tspan></text></g>
<g id="p4-3-2-2"><rect class="b" x="379" y="2608.5" width="197.5" height="71"/><text class="t" x="383.5" y="2622.8">2、乙方在收到首付款三天内，按照合同附页<tspan x="383.5" dy="12.3">（设备清单）所规定产品的清单、型号、规格</tspan><tspan x="383.5" dy="12.3">、数量交付至甲方指定现场，经甲方现场保管</tspan><tspan x="383.5" dy="12.3">人员现场验收后，甲方给乙方支付设备安装总</tspan><tspan x="383.5" dy="12.3">造价的_____%，计人民币_____元）。</tspan></text></g>
<g id="p4-3-2-3"><rect class="b" x="379" y="2698.65" width="197.5" height="58.7"/><text class="t" x="383.5" y="2712.95">3、乙方将安装调试完毕，甲方管理人员验收<tspan x="383.5" dy="12.3">合格后，甲方给乙方支付设备安装总造价的__</tspan><tspan x="383.5" dy="12.3">____%，计人民币_____元（大写：_____</tspan><tspan x="383.5" dy="12.3">。）</tspan></text></g>
<g id="p4-3-2-4"><rect class="b" x="379" y="2777.3" width="197.5" height="46.4"/><text class="t" x="383.5" y="2791.6">4、安装完毕甲方验收后，剩余设备安装总造<tspan x="383.5" dy="12.3">价的_____%计人民币质保金，按售后服务</tspan><tspan x="383.5" dy="12.3">质保书履行，在壹年后支付给乙方。</tspan></text></g>
<g id="p4-3-3"><rect class="b" x="589" y="2903.1" width="85" height="21.8"/><text class="t" x="593.5" y="2917.4">三、甲乙双方责任</text></g>
<g id="p4-3-3-1"><rect class="b" x="370" y="2843.45" width="197" height="34.1"/><text class="t" x="374.5" y="2857.75">1、甲方积极配合乙方的设备安装，以保证顺<tspan x="374.5" dy="12.3">利进行。</tspan></text></g>
<g id="p4-3-3-2"><rect class="b" x="370" y="2939.15" width="197" height="58.7"/><text class="t" x="374.5" y="2953.45">2、乙方提供的售后服务，工程交验后，乙方<tspan x="374.5" dy="12.3">对所提供的设备提供保修壹年，甲方需专人管</tspan><tspan x="374.5" dy="12.3">理设备，由乙方负责培训甲方人员安全操作，</tspan><tspan x="374.5" dy="12.3">熟悉产品性能太简单和保养。</tspan></text></g>
<g id="p4-3-3-2-1"><rect class="b" x="149" y="2897.3" width="198.5" height="46.4"/><text class="t" x="153.5" y="2911.6">四、本合同自签订之日起生效，未尽事宜协商<tspan x="153.5" dy="12.3">解决，甲乙双方如有任何一方违约，交仲裁裁</tspan><tspan x="153.5" dy="12.3">决。</tspan></text></g>
<g id="p4-3-3-2-2"><rect class="b" x="149" y="2999.45" width="198.5" height="34.1"/><text class="t" x="153.5" y="3013.75">五、本合同一式两份，甲乙双方各执一份，起<tspan x="153.5" dy="12.3">生效。</tspan></text></g>
<g id="p4-3-3-2-2-1"><rect class="b" x="41" y="2963.1" width="87" height="21.8"/><text class="t" x="45.5" y="2977.4">甲方签字：_____</text></g>
<g id="p4-3-3-2-2-2"><rect class="b" x="41" y="3005.1" width="87" height="21.8"/><text class="t" x="45.5" y="3019.4">乙方签字：_____</text></g>
<g id="p4-3-3-2-2-3"><rect class="b" x="41" y="3047.1" width="87" height="21.8"/><text class="t" x="45.5" y="3061.4">_____年_____月</text></g>
</svg>
